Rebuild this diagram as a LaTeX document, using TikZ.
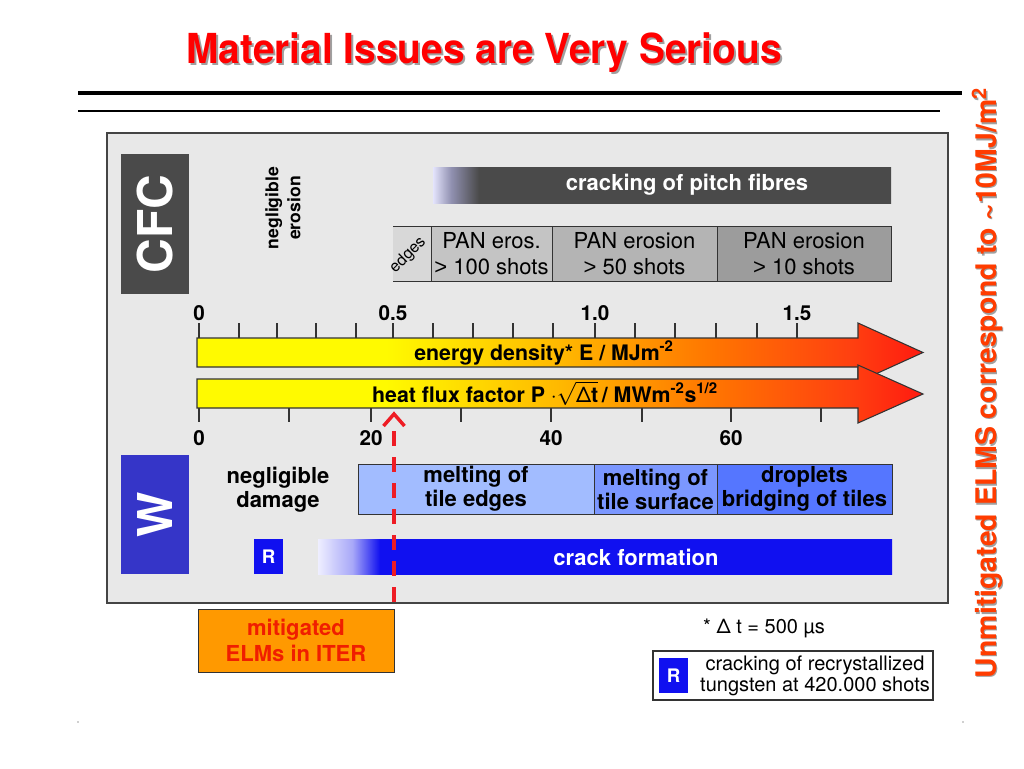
\documentclass[tikz,border=0pt]{standalone}
\usepackage{fontspec}
\setmainfont{TeX Gyre Heros}
\newfontfamily\arialf{Liberation Sans}
\usetikzlibrary{calc}
\definecolor{panelfill}{HTML}{E8E8E8}
\definecolor{panelline}{HTML}{444444}
\definecolor{boxline}{HTML}{333333}
\definecolor{cfcgray}{HTML}{4A4A4A}
\definecolor{edgegray}{HTML}{D8D8D8}
\definecolor{panA}{HTML}{C4C4C4}
\definecolor{panB}{HTML}{B4B4B4}
\definecolor{panC}{HTML}{9C9C9C}
\definecolor{wblue}{HTML}{3535C8}
\definecolor{meltA}{HTML}{A2BCFF}
\definecolor{meltB}{HTML}{7B97FF}
\definecolor{meltC}{HTML}{5576FF}
\definecolor{rblue}{HTML}{1010F0}
\definecolor{lav}{HTML}{E4E4FC}
\definecolor{lavmid}{HTML}{9090B0}
\definecolor{crackpale}{HTML}{EEEEFF}
\definecolor{crackmid}{HTML}{A8A8F8}
\definecolor{barY}{HTML}{FFFA00}
\definecolor{barO1}{HTML}{FFB800}
\definecolor{barO2}{HTML}{FF7800}
\definecolor{barO3}{HTML}{FF4010}
\definecolor{barR}{HTML}{FF1A10}
\definecolor{mitred}{HTML}{F01E00}
\definecolor{dashred}{HTML}{EE1C24}
\definecolor{orangebox}{HTML}{FF9900}
\definecolor{titlered}{HTML}{FF0000}
\definecolor{sidered}{HTML}{FF3C00}
\definecolor{shadowgray}{HTML}{A0A0A0}
\pgfdeclarehorizontalshading{energyshade}{100bp}{color(0bp)=(barY); color(25bp)=(barY); color(38bp)=(barY); color(50bp)=(barO1); color(60bp)=(barO2); color(70bp)=(barO3); color(75bp)=(barR); color(100bp)=(barR)}
\pgfdeclarehorizontalshading{pitchshade}{100bp}{color(0bp)=(lav); color(25bp)=(lav); color(27bp)=(lavmid); color(30bp)=(cfcgray); color(100bp)=(cfcgray)}
\pgfdeclarehorizontalshading{crackshade}{100bp}{color(0bp)=(crackpale); color(25bp)=(crackpale); color(28bp)=(crackmid); color(30.4bp)=(rblue); color(100bp)=(rblue)}
\newcommand\gtsign{{\arialf >}}
\tikzset{
  rectpx/.style 2 args={minimum width=#1*0.75pt, minimum height=#2*0.75pt, inner sep=0pt, outer sep=0pt, anchor=north west},
  framed/.style={draw=boxline, line width=0.75pt},
  boldtxt/.style={font=\fontsize{16.5}{18}\selectfont\bfseries},
  axislabel/.style={anchor=base, font=\fontsize{15.5}{17}\selectfont\bfseries},
  tickline/.style={draw=boxline, line width=0.9pt},
  bigwhite/.style={rotate=90, text=white, font=\fontsize{36}{40}\selectfont\bfseries},
  arrowline/.style={draw=boxline, line width=0.8pt},
}
\begin{document}
\begin{tikzpicture}[x=0.75pt,y=-0.75pt,font=\fontsize{16.5}{19.5}\selectfont]
\useasboundingbox (0,0) rectangle (1024,768);
\fill[white] (0,0) rectangle (1024,768);

% title
\node[anchor=base, text=shadowgray, font=\fontsize{31}{34}\selectfont\bfseries] (titleshadow) at (486,65) {\scalebox{0.94}[1]{Material Issues are Very Serious}};
\node[anchor=base, text=titlered, font=\fontsize{31}{34}\selectfont\bfseries] (title) at (484,63) {\scalebox{0.94}[1]{Material Issues are Very Serious}};

% rules
\coordinate (ruleAL) at (78,93); \coordinate (ruleAR) at (962,93);
\draw[line width=2.4pt] (ruleAL) -- (ruleAR);
\coordinate (ruleBL) at (78,111); \coordinate (ruleBR) at (940,111);
\draw[line width=0.8pt] (ruleBL) -- (ruleBR);

% panel
\node[rectpx={841}{470}, draw=panelline, fill=panelfill, line width=1.1pt] (panel) at (107,133) {};

% CFC section
\node[rectpx={68}{140}, fill=cfcgray] (cfcbox) at (121,154) {};
\node[bigwhite] (cfc) at (cfcbox.center) {CFC};
\node[rotate=90, align=center, font=\fontsize{13.2}{16.5}\selectfont\bfseries] (neglero) at (283,208) {negligible\\erosion};

\node[rectpx={458}{36}, shading=pitchshade] (pitch) at (433,167) {};
\node[text=white, font=\fontsize{16.5}{18}\selectfont\bfseries] (pitchtxt) at (687,185) {cracking of pitch fibres};

\node[rectpx={38}{55}, fill=edgegray] (edgebox) at (393,226) {};
\draw[framed] (edgebox.north west) -- (edgebox.north east);
\draw[framed] (edgebox.south west) -- (edgebox.south east);
\node[rotate=45, inner sep=0pt, font=\fontsize{12}{13}\selectfont] (edgestxt) at (408,255) {edges};
\node[rectpx={121}{55}, fill=panA, framed, align=center] (panAbox) at (431,226) {PAN eros.\\\gtsign{} 100 shots};
\node[rectpx={165}{55}, fill=panB, framed, align=center] (panBbox) at (552,226) {PAN erosion\\\gtsign{} 50 shots};
\node[rectpx={174}{55}, fill=panC, framed, align=center] (panCbox) at (717,226) {PAN erosion\\\gtsign{} 10 shots};

% top axis
\foreach \tx in {199,239,277,316,356,393,433,473,513,553,595,635,675,716,757,797}
  \draw[tickline] (\tx,323) -- (\tx,338);
\node[axislabel] (eA) at (199,320) {0};
\node[axislabel] (eB) at (393,320) {0.5};
\node[axislabel] (eC) at (595,320) {1.0};
\node[axislabel] (eD) at (797,320) {1.5};

% arrows
\shadedraw[shading=energyshade, arrowline] (197,338) -- (858,338) -- (858,323) -- (923,352.5) -- (858,382) -- (858,367) -- (197,367) -- cycle;
\node[anchor=base, font=\fontsize{16}{18}\selectfont\bfseries] (etxt) at (544,360) {energy density* E / MJm\textsuperscript{-2}};
\shadedraw[shading=energyshade, arrowline] (197,379) -- (858,379) -- (858,365) -- (923,394) -- (858,423) -- (858,408) -- (197,408) -- cycle;
\node[anchor=base, font=\fontsize{16}{18}\selectfont\bfseries] (ptxt) at (545,402) {heat flux factor P {\mdseries ·}$\sqrt{\mbox{\mdseries Δ\bfseries t}}$\,/ MWm\textsuperscript{-2}s\textsuperscript{1/2}};

% bottom axis
\foreach \tx in {199,289,371,461,551,642,731,821}
  \draw[tickline] (\tx,408) -- (\tx,422);
\node[axislabel] (pA) at (199,445) {0};
\node[axislabel] (pB) at (371,445) {20};
\node[axislabel] (pC) at (551,445) {40};
\node[axislabel] (pD) at (731,445) {60};

% W section
\node[rectpx={68}{119}, fill=wblue] (wbox) at (121,455) {};
\node[bigwhite] (wtxt) at (wbox.center) {W};
\node[boldtxt, align=center] (negldam) at (278,490) {negligible\\damage};
\node[rectpx={236}{50}, fill=meltA, framed, boldtxt, align=center] (meltAbox) at (358,464) {melting of\\tile edges};
\node[rectpx={123}{50}, fill=meltB, framed, boldtxt, align=center] (meltBbox) at (594,464) {melting of\\tile surface};
\node[rectpx={175}{50}, fill=meltC, framed, boldtxt, align=center] (meltCbox) at (717,464) {droplets\\bridging of tiles};

\node[rectpx={29}{35}, fill=rblue, text=white, font=\fontsize{14}{16}\selectfont\bfseries] (rbox) at (254,539) {R};
\node[rectpx={574}{35}, shading=crackshade] (crackbar) at (318,539) {};
\node[text=white, boldtxt] (cracktxt) at (636,557) {crack formation};

% mitigated ELM marker
\coordinate (mtip) at (394,414);
\coordinate (mleft) at (383.5,426);
\coordinate (mright) at (404.5,426);
\coordinate (mstart) at (394,431);
\coordinate (mend) at (394,606);
\draw[dashred, line width=3pt, dash pattern=on 11.25pt off 8.25pt] (mstart) -- (mend);
\draw[dashred, line width=2.6pt, line join=miter] (mleft) -- (mtip) -- (mright);

\node[rectpx={196}{63}, fill=orangebox, framed, text=mitred, align=center, font=\fontsize{16.5}{19.5}\selectfont\bfseries] (mitig) at (198,609) {mitigated\\ELMs in ITER};

% notes
\node[anchor=base, font=\fontsize{15}{17}\selectfont] (dtnote) at (764,633) {* Δ t = 500 µs};
\node[rectpx={280}{49}, fill=white, draw=boxline, line width=1pt] (legend) at (653,651) {};
\node[rectpx={29}{35}, fill=rblue, text=white, font=\fontsize{14}{16}\selectfont\bfseries] (legR) at (659,658) {R};
\node[align=center, font=\fontsize{15}{15.8}\selectfont] (legtxt) at (815,676) {cracking of recrystallized\\tungsten at 420.000 shots};

% side text
\node[rotate=90, text=shadowgray, font=\fontsize{21.3}{24}\selectfont\bfseries] (sideshadow) at (988.5,384.5) {Unmitigated ELMS correspond to \textasciitilde10MJ/m\textsuperscript{2}};
\node[rotate=90, text=sidered, font=\fontsize{21.3}{24}\selectfont\bfseries] (side) at (987,383) {Unmitigated ELMS correspond to \textasciitilde10MJ/m\textsuperscript{2}};

% page marks
\coordinate (dotL) at (78,722); \coordinate (dotR) at (963,722);
\fill[shadowgray] (dotL) circle (0.6pt);
\fill[shadowgray] (dotR) circle (0.6pt);
\end{tikzpicture}
\end{document}
